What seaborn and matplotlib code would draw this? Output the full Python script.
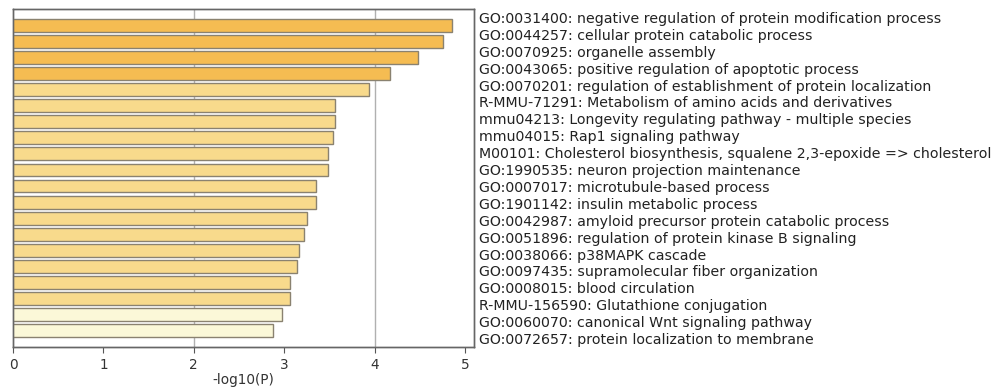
import matplotlib
matplotlib.use("Agg")
import matplotlib.pyplot as plt
import seaborn as sns
import pandas as pd

terms = [
    "GO:0031400: negative regulation of protein modification process",
    "GO:0044257: cellular protein catabolic process",
    "GO:0070925: organelle assembly",
    "GO:0043065: positive regulation of apoptotic process",
    "GO:0070201: regulation of establishment of protein localization",
    "R-MMU-71291: Metabolism of amino acids and derivatives",
    "mmu04213: Longevity regulating pathway - multiple species",
    "mmu04015: Rap1 signaling pathway",
    "M00101: Cholesterol biosynthesis, squalene 2,3-epoxide => cholesterol",
    "GO:1990535: neuron projection maintenance",
    "GO:0007017: microtubule-based process",
    "GO:1901142: insulin metabolic process",
    "GO:0042987: amyloid precursor protein catabolic process",
    "GO:0051896: regulation of protein kinase B signaling",
    "GO:0038066: p38MAPK cascade",
    "GO:0097435: supramolecular fiber organization",
    "GO:0008015: blood circulation",
    "R-MMU-156590: Glutathione conjugation",
    "GO:0060070: canonical Wnt signaling pathway",
    "GO:0072657: protein localization to membrane",
]
log_p = [4.86, 4.76, 4.48, 4.17, 3.94, 3.56, 3.56, 3.54, 3.48, 3.48,
         3.35, 3.35, 3.25, 3.22, 3.16, 3.14, 3.06, 3.06, 2.98, 2.88]
level = ["high"] * 4 + ["mid"] * 14 + ["low"] * 2
palette = {"high": "#F5BC52", "mid": "#F8DA8C", "low": "#FBF8D8"}
x_ticks = [0, 1, 2, 3, 4, 5]
grid_at = [2, 4]

df = pd.DataFrame({"term": terms, "logp": log_p, "level": level})
n = len(terms)

sns.set_style("white")
plt.rcParams["font.family"] = ["DejaVu Sans"]

fig = plt.figure(figsize=(9.95, 3.88), dpi=100)
ax = fig.add_axes([0.0131, 0.1057, 0.4633, 0.8711])

sns.barplot(data=df, x="logp", y="term", hue="level", palette=palette,
            saturation=1, dodge=False, legend=False, orient="h", width=0.8,
            edgecolor="#8a8270", linewidth=1.0, ax=ax)
for p in ax.patches:
    p.set_zorder(3)

for g in grid_at:
    ax.axvline(g, color="#b0b0b0", lw=1.0, zorder=1)

ax.set_xlim(0, 5.1)
ax.set_ylim(n, -1)
ax.set_yticks([])
ax.set_ylabel("")
ax.set_xticks(x_ticks)
ax.set_xticklabels([str(t) for t in x_ticks], fontsize=9.8, color="#333333")
ax.set_xlabel("-log10(P)", fontsize=9.8, color="#333333", labelpad=1)
ax.tick_params(axis="x", length=4, width=0.8, color="#555555", pad=4, bottom=True)

# term labels: evenly spaced column on the right
ax2 = ax.twinx()
ax2.set_ylim(n, 0)
ax2.set_yticks([i + 0.5 for i in range(n)])
ax2.set_yticklabels(terms)
ax2.tick_params(axis="y", length=0, pad=3.5, labelsize=10.2, labelcolor="#222222")
ax2.grid(False)

for a in (ax, ax2):
    for s in a.spines.values():
        s.set_visible(True)
        s.set_color("#666666")
        s.set_linewidth(1.0)

fig.savefig("out.png", dpi=100)
